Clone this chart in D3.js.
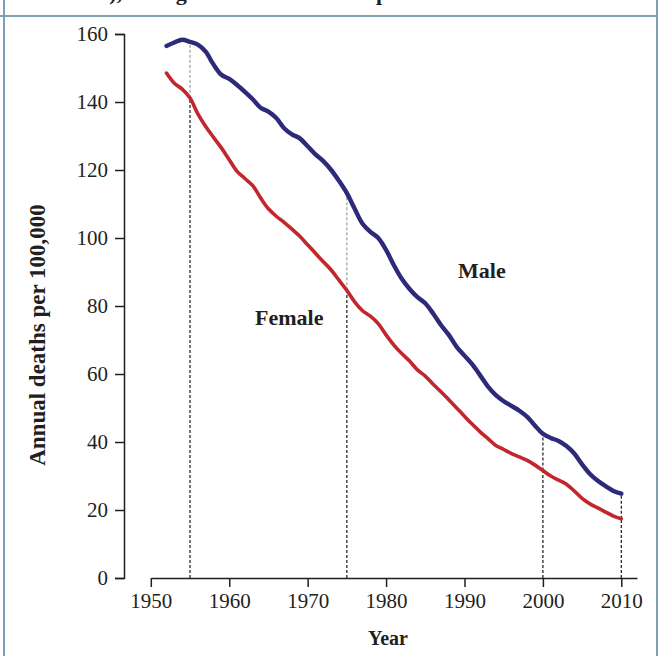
<!DOCTYPE html>
<html>
<head>
<meta charset="utf-8">
<script src="https://cdn.jsdelivr.net/npm/d3@7"></script>
<style>
  body { margin: 0; background: #fff; }
  svg { display: block; font-family: "Liberation Serif", "DejaVu Serif", serif; }
</style>
</head>
<body>
<div id="chart"></div>
<script>
// years of the two series
const years = d3.range(1952, 2011);

// annual deaths per 100,000
const maleValues = [
  156.5, 157.5, 158.3, 157.7, 156.9, 154.8, 151.0, 148.0, 146.8, 145.0,
  143.0, 140.8, 138.3, 137.2, 135.3, 132.3, 130.5, 129.3, 127.0, 124.6,
  122.6, 120.0, 116.8, 113.2, 108.6, 104.2, 101.8, 100.0, 96.5, 92.0,
  88.0, 85.0, 82.6, 80.8, 77.8, 74.4, 71.5, 68.0, 65.4, 62.8,
  59.6, 56.3, 53.8, 52.0, 50.6, 49.2, 47.4, 44.8, 42.4, 41.2,
  40.3, 38.8, 36.6, 33.4, 30.6, 28.6, 27.0, 25.6, 24.8
];
const femaleValues = [
  148.5, 145.5, 143.8, 141.2, 136.5, 132.8, 129.6, 126.5, 123.0, 119.6,
  117.5, 115.4, 111.8, 108.6, 106.4, 104.6, 102.6, 100.5, 98.0, 95.5,
  93.0, 90.6, 87.6, 84.6, 81.2, 78.6, 77.0, 74.8, 71.5, 68.5,
  66.0, 63.8, 61.2, 59.4, 57.0, 54.8, 52.4, 50.0, 47.6, 45.2,
  43.0, 41.0, 39.0, 37.8, 36.6, 35.6, 34.6, 33.2, 31.6, 30.0,
  28.8, 27.6, 25.6, 23.4, 21.8, 20.6, 19.4, 18.2, 17.4
];

// years marked with dashed guide lines
const guideYears = [1955, 1975, 2000, 2010];

// tick labels
const xTicks = [1950, 1960, 1970, 1980, 1990, 2000, 2010];
const yTicks = [0, 20, 40, 60, 80, 100, 120, 140, 160];

const width = 658;
const height = 656;

const svg = d3.select("#chart")
  .append("svg")
  .attr("width", width)
  .attr("height", height);

// frame of the figure box
svg.append("line")
  .attr("x1", 4).attr("x2", 4).attr("y1", 0).attr("y2", height)
  .attr("stroke", "#7f9fb4").attr("stroke-width", 2);
svg.append("line")
  .attr("x1", 657).attr("x2", 657).attr("y1", 0).attr("y2", height)
  .attr("stroke", "#7f9fb4").attr("stroke-width", 2);
svg.append("line")
  .attr("x1", 0).attr("x2", width).attr("y1", 16).attr("y2", 16)
  .attr("stroke", "#7f9fb4").attr("stroke-width", 2);

// bottom of the caption line, cut off by the top edge
const caption = svg.append("text")
  .attr("y", 0)
  .attr("font-size", 22)
  .attr("font-weight", "bold")
  .attr("fill", "#231f20");
caption.append("tspan").attr("x", 122).attr("text-anchor", "end")
  .text("Death rates (United States),");
caption.append("tspan").attr("x", 136).attr("text-anchor", "start")
  .text("all ages and both sexes");
caption.append("tspan").attr("x", 376)
  .text("per annum");

// scales
const x = d3.scaleLinear().domain([1950, 2012]).range([150.8, 637]);
const y = d3.scaleLinear().domain([0, 160]).range([578, 34]);

// y axis
const yAxis = svg.append("g")
  .attr("transform", "translate(124,0)")
  .call(d3.axisLeft(y).tickValues(yTicks).tickSize(9).tickSizeOuter(9).tickPadding(7));

// x axis
const xAxis = svg.append("g")
  .attr("transform", "translate(0,578)")
  .call(d3.axisBottom(x).tickValues(xTicks).tickFormat(d3.format("d"))
    .tickSize(9).tickSizeOuter(0).tickPadding(6));

[yAxis, xAxis].forEach(g => {
  g.selectAll("path, line").attr("stroke", "#231f20").attr("stroke-width", 1.5);
  g.selectAll("text")
    .attr("font-family", "Liberation Serif, serif")
    .attr("font-size", 21)
    .attr("fill", "#231f20");
});

// dashed guides: dark up to the female curve, lighter up to the male curve
guideYears.forEach(yr => {
  const i = years.indexOf(yr);
  const light = yr < 1990;
  svg.append("line")
    .attr("x1", x(yr)).attr("x2", x(yr))
    .attr("y1", y(0)).attr("y2", y(femaleValues[i]))
    .attr("stroke", "#2a2a2a")
    .attr("stroke-width", 1.3)
    .attr("stroke-dasharray", "3,2");
  svg.append("line")
    .attr("x1", x(yr)).attr("x2", x(yr))
    .attr("y1", y(femaleValues[i])).attr("y2", y(maleValues[i]))
    .attr("stroke", light ? "#8a8a8a" : "#2a2a2a")
    .attr("stroke-width", light ? 1 : 1.3)
    .attr("stroke-dasharray", "3,2");
});

// series lines
const line = values => d3.line()
  .x((d, i) => x(years[i]))
  .y(d => y(d))
  .curve(d3.curveCatmullRom.alpha(0.5))(values);

svg.append("path")
  .attr("d", line(femaleValues))
  .attr("fill", "none")
  .attr("stroke", "#c1272d")
  .attr("stroke-width", 3.6)
  .attr("stroke-linecap", "round");

svg.append("path")
  .attr("d", line(maleValues))
  .attr("fill", "none")
  .attr("stroke", "#2e2a7a")
  .attr("stroke-width", 4.4)
  .attr("stroke-linecap", "round");

// series labels
svg.append("text")
  .attr("x", 255).attr("y", 325)
  .attr("font-size", 22).attr("font-weight", "bold").attr("fill", "#231f20")
  .text("Female");
svg.append("text")
  .attr("x", 458).attr("y", 278)
  .attr("font-size", 22).attr("font-weight", "bold").attr("fill", "#231f20")
  .text("Male");

// axis titles
svg.append("text")
  .attr("x", 388).attr("y", 645)
  .attr("text-anchor", "middle")
  .attr("font-size", 20).attr("font-weight", "bold").attr("fill", "#231f20")
  .text("Year");
svg.append("text")
  .attr("transform", "translate(45,335) rotate(-90)")
  .attr("text-anchor", "middle")
  .attr("font-size", 23).attr("font-weight", "bold").attr("fill", "#231f20")
  .text("Annual deaths per 100,000");
</script>
</body>
</html>
